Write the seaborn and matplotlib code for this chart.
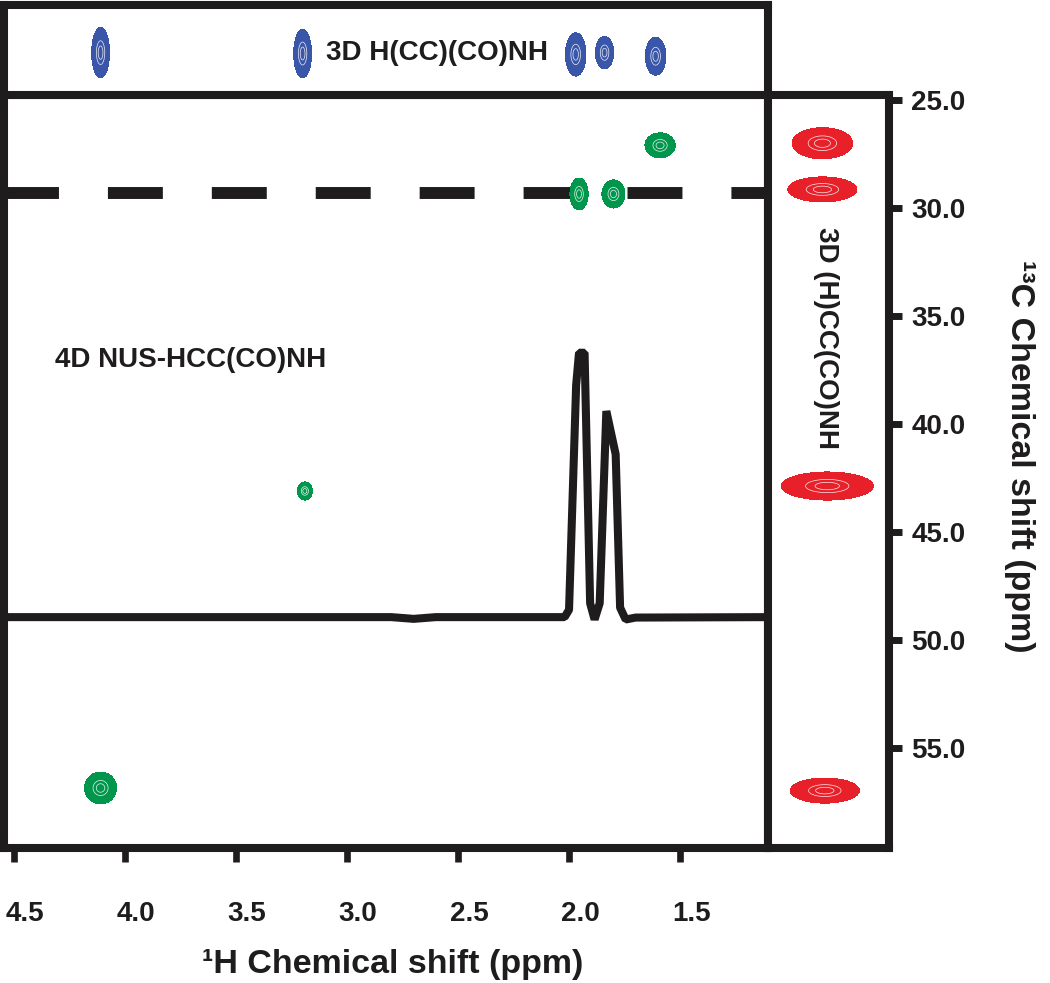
# NMR strip figure: 4D NUS-HCC(CO)NH plane with 3D projections on top and right

import numpy as np
import pandas as pd
import seaborn as sns
import matplotlib
matplotlib.use("Agg")
import matplotlib.pyplot as plt
import matplotlib.transforms as mtransforms

# 1H axis ticks (ppm) and 13C axis ticks (ppm)
h_ticks = [4.5, 4.0, 3.5, 3.0, 2.5, 2.0, 1.5]
c_ticks = [25.0, 30.0, 35.0, 40.0, 45.0, 50.0, 55.0]

# green cross peaks in the 4D plane: 1H shift, 13C shift, half widths
green_h = [1.59, 1.955, 1.80, 3.19, 4.11]
green_c = [27.1, 29.35, 29.35, 43.1, 56.85]
green_wh = [0.068, 0.041, 0.052, 0.034, 0.072]
green_wc = [0.58, 0.74, 0.65, 0.42, 0.74]

# blue peaks of 3D H(CC)(CO)NH (top strip, 1H dimension)
blue_h = [4.11, 3.20, 1.97, 1.84, 1.61]
blue_y = [0.47, 0.46, 0.45, 0.47, 0.43]
blue_wh = [0.040, 0.040, 0.046, 0.041, 0.046]
blue_wy = [0.28, 0.27, 0.24, 0.18, 0.21]

# red peaks of 3D (H)CC(CO)NH (right strip, 13C dimension)
red_x = [0.45, 0.45, 0.49, 0.47]
red_c = [27.0, 29.14, 42.87, 56.97]
red_wx = [0.25, 0.285, 0.38, 0.285]
red_wc = [0.72, 0.58, 0.65, 0.58]

# 1D trace taken along the dashed line (plotted with an offset baseline)
trace_h = [4.545, 2.80, 2.70, 2.60, 2.02, 2.000, 1.968, 1.955, 1.930, 1.905,
           1.885, 1.862, 1.832, 1.790, 1.770, 1.745, 1.700, 1.104]
trace_c = [48.94, 48.94, 49.02, 48.94, 48.94, 48.6, 38.2, 36.7, 36.7, 48.3,
           49.05, 48.3, 39.4, 41.4, 48.5, 49.05, 48.96, 48.94]

slice_c = 29.3

sns.set_style("white")
plt.rcParams['font.family'] = ['Liberation Sans', 'DejaVu Sans']
plt.rcParams['font.weight'] = 'bold'

ink = "#1e1c1d"
lw_frame = 5.8

xlim = (4.545, 1.104)
ylim = (59.63, 24.77)

fig = plt.figure(figsize=(10.5, 9.83), dpi=100)
ax = fig.add_axes([0.0038, 0.1373, 0.7276, 0.7660])
ax_top = fig.add_axes([0.0038, 0.9034, 0.7276, 0.0916])
ax_r = fig.add_axes([0.7314, 0.1373, 0.1152, 0.7660])


def draw_peaks(a, cx, cy, wx, wy, color):
    for x0, y0, hx, hy in zip(cx, cy, wx, wy):
        xs = np.linspace(x0 - 1.3 * hx, x0 + 1.3 * hx, 160)
        ys = np.linspace(y0 - 1.3 * hy, y0 + 1.3 * hy, 160)
        X, Y = np.meshgrid(xs, ys)
        sx, sy = hx / 2.146, hy / 2.146
        Z = np.exp(-0.5 * (((X - x0) / sx) ** 2 + ((Y - y0) / sy) ** 2))
        a.contourf(X, Y, Z, levels=[0.1, 1.01], colors=[color], zorder=3)
        a.contour(X, Y, Z, levels=[0.6, 0.85], colors="white",
                  linewidths=0.5, alpha=0.9, zorder=4)


# main 4D plane
ax.axhline(slice_c, color=ink, lw=8.6, ls=(0, (4.6, 4.1)),
           dash_capstyle="butt", zorder=2)
df = pd.DataFrame({"h": trace_h, "c": trace_c})
sns.lineplot(data=df, x="h", y="c", sort=False, estimator=None, color=ink,
             lw=5.8, ax=ax, zorder=2)
ax.lines[-1].set_solid_joinstyle("bevel")
draw_peaks(ax, green_h, green_c, green_wh, green_wc, "#00964b")
ax.text(4.315, 37.04, "4D NUS-HCC(CO)NH", fontsize=20, fontweight="bold",
        color=ink, ha="left", va="center")

ax.set_xlim(*xlim)
ax.set_ylim(*ylim)
ax.set_xticks(h_ticks)
ax.set_xticklabels([f"{v:.1f}" for v in h_ticks])
ax.set_yticks([])
ax.tick_params(axis="x", bottom=True, direction="out", length=10, width=4.8,
               pad=28, labelsize=20, color=ink, labelcolor=ink)
shift = mtransforms.ScaledTranslation(8 / 72, 0, fig.dpi_scale_trans)
for lab in ax.get_xticklabels():
    lab.set_transform(lab.get_transform() + shift)
ax.set_xlabel("")
ax.set_ylabel("")

# top strip
draw_peaks(ax_top, blue_h, blue_y, blue_wh, blue_wy, "#3a56a8")
ax_top.text(3.095, 0.467, "3D H(CC)(CO)NH", fontsize=20, fontweight="bold",
            color=ink, ha="left", va="center")
ax_top.set_xlim(*xlim)
ax_top.set_ylim(0, 1)
ax_top.set_xticks([])
ax_top.set_yticks([])

# right strip
draw_peaks(ax_r, red_x, red_c, red_wx, red_wc, "#e8202a")
ax_r.text(0.48, 36.0, "3D (H)CC(CO)NH", fontsize=20, fontweight="bold",
          color=ink, ha="center", va="center", rotation=270)
ax_r.set_xlim(0, 1)
ax_r.set_ylim(*ylim)
ax_r.set_xticks([])
ax_r.yaxis.tick_right()
ax_r.set_yticks(c_ticks)
ax_r.set_yticklabels([f"{v:.1f}" for v in c_ticks])
ax_r.tick_params(axis="y", right=True, left=False, direction="out",
                 length=9.5, width=5, pad=6.5, labelsize=20,
                 color=ink, labelcolor=ink)

for a in (ax, ax_top, ax_r):
    for s in a.spines.values():
        s.set_linewidth(lw_frame)
        s.set_color(ink)
        s.set_zorder(5)

fig.text(393 / 1050, 1 - 965 / 983, "\u00b9H Chemical shift (ppm)",
         fontsize=24.5, fontweight="bold", color=ink, ha="center", va="center")
fig.text(1019 / 1050, 1 - 456 / 983, "\u00b9\u00b3C Chemical shift (ppm)",
         fontsize=24.5, fontweight="bold", color=ink, ha="center", va="center",
         rotation=270)

fig.savefig("out.png", dpi=100)
